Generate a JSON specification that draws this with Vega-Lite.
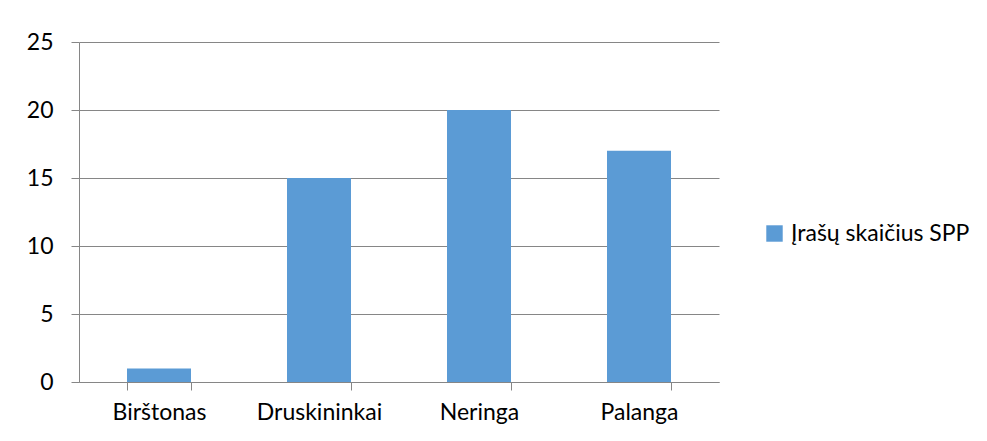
{
  "$schema": "https://vega.github.io/schema/vega-lite/v6.json",
  "autosize": "none",
  "width": 640,
  "height": 340,
  "padding": {"left": 79, "top": 42, "right": 268, "bottom": 59},
  "background": "white",
  "data": {"values": [
    {"miestas": "Birštonas", "reiksme": 1, "serija": "Įrašų skaičius SPP"},
    {"miestas": "Druskininkai", "reiksme": 15, "serija": "Įrašų skaičius SPP"},
    {"miestas": "Neringa", "reiksme": 20, "serija": "Įrašų skaičius SPP"},
    {"miestas": "Palanga", "reiksme": 17, "serija": "Įrašų skaičius SPP"}
  ]},
  "mark": {"type": "bar"},
  "encoding": {
    "x": {"field": "miestas", "type": "nominal", "sort": null,
      "scale": {"paddingInner": 0.6, "paddingOuter": 0.3},
      "axis": {"title": null, "labelAngle": 0, "tickBand": "extent", "tickSize": 8, "labelPadding": 11, "domainColor": "#868686", "tickColor": "#868686", "grid": false}},
    "y": {"field": "reiksme", "type": "quantitative",
      "scale": {"domain": [0, 25], "nice": false},
      "axis": {"title": null, "values": [0, 5, 10, 15, 20, 25], "tickSize": 8, "labelPadding": 18, "domainColor": "#868686", "tickColor": "#868686", "gridColor": "#868686"}},
    "color": {"field": "serija", "type": "nominal", "scale": {"range": ["#5B9BD5"]},
      "legend": {"title": null, "orient": "none", "legendX": 684, "legendY": 180, "symbolType": "square", "symbolSize": 270, "symbolStrokeWidth": 0, "labelOffset": 5}}
  },
  "config": {
    "view": {"stroke": null},
    "font": "Lato",
    "axis": {"labelFont": "Lato", "labelFontSize": 23, "labelColor": "#000000", "domainWidth": 1, "gridWidth": 1},
    "legend": {"labelFont": "Lato", "labelFontSize": 23, "labelColor": "#000000", "labelLimit": 300}
  }
}
